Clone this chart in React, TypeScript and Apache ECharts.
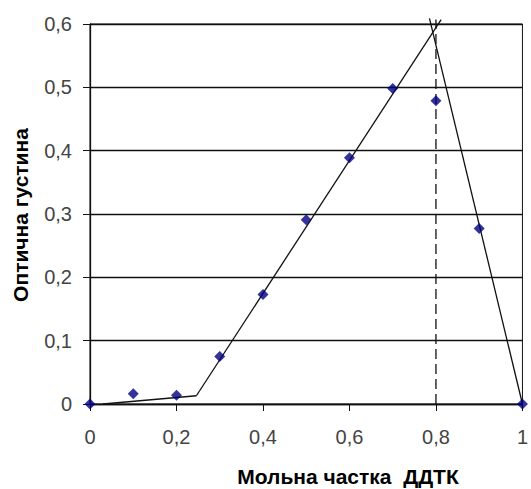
import React, { useEffect, useRef } from "react";
import * as echarts from "echarts";

const molarFraction = [0, 0.1, 0.2, 0.3, 0.4, 0.5, 0.6, 0.7, 0.8, 0.9, 1.0];
const opticalDensity = [0, 0.016, 0.014, 0.075, 0.173, 0.291, 0.389, 0.498, 0.479, 0.277, 0];

const fitBase: [number, number][] = [[0.03, 0], [0.246, 0.013]];
const fitRise: [number, number][] = [[0.246, 0.013], [0.812, 0.607]];
const fitFall: [number, number][] = [[0.785, 0.609], [1.0, 0]];
const equivalenceLine: [number, number][] = [[0.8, 0], [0.8, 0.607]];

const xTitle = "Мольна частка  ДДТК";
const yTitle = "Оптична густина";

const fmt = (v: number) => String(+v.toFixed(1)).replace(".", ",");

export default function App() {
  const ref = useRef<HTMLDivElement>(null);
  useEffect(() => {
    if (!ref.current) return;
    const chart = echarts.init(ref.current, null, { renderer: "svg" });
    const font = "'Liberation Sans', Arial, sans-serif";
    const lineStyle = { color: "#111", width: 1.3 };
    chart.setOption({
      animation: false,
      backgroundColor: "#fff",
      grid: {
        left: 90,
        right: 6,
        top: 24,
        bottom: 85,
        show: true,
        borderColor: "#111",
        borderWidth: 1,
      },
      xAxis: {
        type: "value",
        min: 0,
        max: 1,
        interval: 0.2,
        axisLine: { lineStyle: { color: "#111", width: 1.3 } },
        axisTick: { show: true, inside: false, length: 7, lineStyle: { color: "#111" } },
        splitLine: { show: false },
        axisLabel: { formatter: fmt, fontFamily: font, fontSize: 20, color: "#444", margin: 23 },
      },
      yAxis: {
        type: "value",
        min: 0,
        max: 0.6,
        interval: 0.1,
        axisLine: { show: true, lineStyle: { color: "#111", width: 1.3 } },
        axisTick: { show: true, inside: false, length: 7, lineStyle: { color: "#111" } },
        splitLine: { show: true, lineStyle: { color: "#111", width: 1.3 } },
        axisLabel: { formatter: fmt, fontFamily: font, fontSize: 20, color: "#444", margin: 18 },
      },
      graphic: [
        {
          type: "text",
          x: 20,
          y: 215,
          rotation: Math.PI / 2,
          style: {
            text: yTitle,
            fontFamily: font,
            fontWeight: "bold",
            fontSize: 21,
            fill: "#000",
            align: "center",
            verticalAlign: "middle",
          },
        },
        {
          type: "text",
          x: 348,
          y: 476,
          style: {
            text: xTitle,
            fontFamily: font,
            fontWeight: "bold",
            fontSize: 21,
            fill: "#000",
            align: "center",
            verticalAlign: "middle",
          },
        },
      ],
      series: [
        { type: "line", data: fitBase, symbol: "none", clip: false, lineStyle, z: 2 },
        { type: "line", data: fitRise, symbol: "none", clip: false, lineStyle, z: 2 },
        { type: "line", data: fitFall, symbol: "none", clip: false, lineStyle, z: 2 },
        {
          type: "line",
          data: equivalenceLine,
          symbol: "none",
          clip: false,
          lineStyle: { color: "#111", width: 1.3, type: [10, 5] },
          z: 2,
        },
        {
          type: "scatter",
          data: molarFraction.map((x, i) => [x, opticalDensity[i]]),
          symbol: "diamond",
          symbolSize: 11,
          itemStyle: { color: "#000080" },
          clip: false,
          z: 5,
        },
      ],
    });
    return () => chart.dispose();
  }, []);
  return <div ref={ref} style={{ width: 531, height: 489, position: "absolute", left: 0, top: 0 }} />;
}
